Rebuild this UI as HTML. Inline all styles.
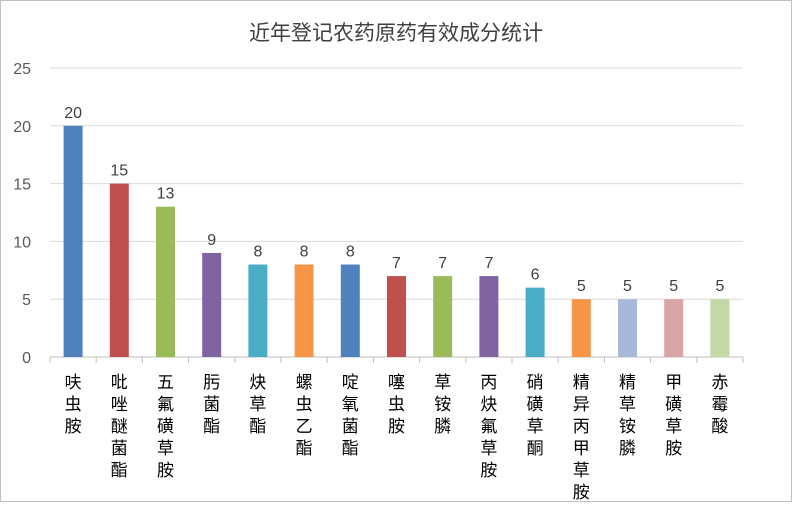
<!DOCTYPE html>
<html><head><meta charset="utf-8"><style>
body{margin:0;background:#fff}
svg text{font-family:"Liberation Sans","Noto Sans CJK SC",sans-serif}
</style></head><body>
<svg width="793" height="503" viewBox="0 0 793 503">
<rect x="0.5" y="0.5" width="791" height="501" fill="#fff" stroke="#bfbfbf"/>
<text x="396" y="40" text-anchor="middle" font-size="21" fill="#404040">近年登记农药原药有效成分统计</text>
<g id="grid"></g><g id="bars"></g><g id="labels"></g>
</svg>
<script>
const categories=["呋虫胺","吡唑醚菌酯","五氟磺草胺","肟菌酯","炔草酯","螺虫乙酯","啶氧菌酯","噻虫胺","草铵膦","丙炔氟草胺","硝磺草酮","精异丙甲草胺","精草铵膦","甲磺草胺","赤霉酸"];
const values=[20,15,13,9,8,8,8,7,7,7,6,5,5,5,5];
const yTicks=[0,5,10,15,20,25];
const colors=["#4F81BD","#C0504D","#9BBB59","#8064A2","#4BACC6","#F79646","#4F81BD","#C0504D","#9BBB59","#8064A2","#4BACC6","#F79646","#A7B9DA","#D9A5A7","#C4D7A6"];
const NS="http://www.w3.org/2000/svg";
const x0=50,x1=743,y0=357,yTop=68,yMax=25;
const bw=(x1-x0)/categories.length;
function ys(v){return y0-(y0-yTop)*v/yMax;}
function xc(i){return x0+bw*(i+0.5);}
function mk(t,a,p){const e=document.createElementNS(NS,t);for(const k in a)e.setAttribute(k,a[k]);p.appendChild(e);return e;}
const g=document.getElementById('grid'),b=document.getElementById('bars'),l=document.getElementById('labels');
yTicks.forEach(t=>{
 const ln=mk('line',{x1:x0,x2:x1,y1:ys(t),y2:ys(t),stroke:t===0?'#bfbfbf':'#d9d9d9'},g);
 
 
 const tx=mk('text',{x:31,y:ys(t)+6,'text-anchor':'end','font-size':16,fill:'#595959'},g);
 tx.textContent=t;
 
 
});
for(let i=0;i<=categories.length;i++){
 const tk=mk('line',{x1:x0+bw*i,x2:x0+bw*i,y1:y0,y2:y0+6,stroke:'#bfbfbf'},g);
 
 
}
categories.forEach((c,i)=>{
 const v=values[i];
 const r=mk('rect',{x:xc(i)-9.5,y:ys(v),width:19,height:y0-ys(v),fill:colors[i]},b);
 
 
 const vt=mk('text',{x:xc(i),y:ys(v)-8,'text-anchor':'middle','font-size':16,fill:'#404040'},l);
 vt.textContent=v;
 
 
 const ct=mk('text',{x:xc(i),'text-anchor':'middle','font-size':17,fill:'#000'},l);
 
 
 [...c].forEach((ch,j)=>{const ts=mk('tspan',{x:xc(i),y:388+j*22},ct);ts.textContent=ch;});
});
</script>
</body></html>
